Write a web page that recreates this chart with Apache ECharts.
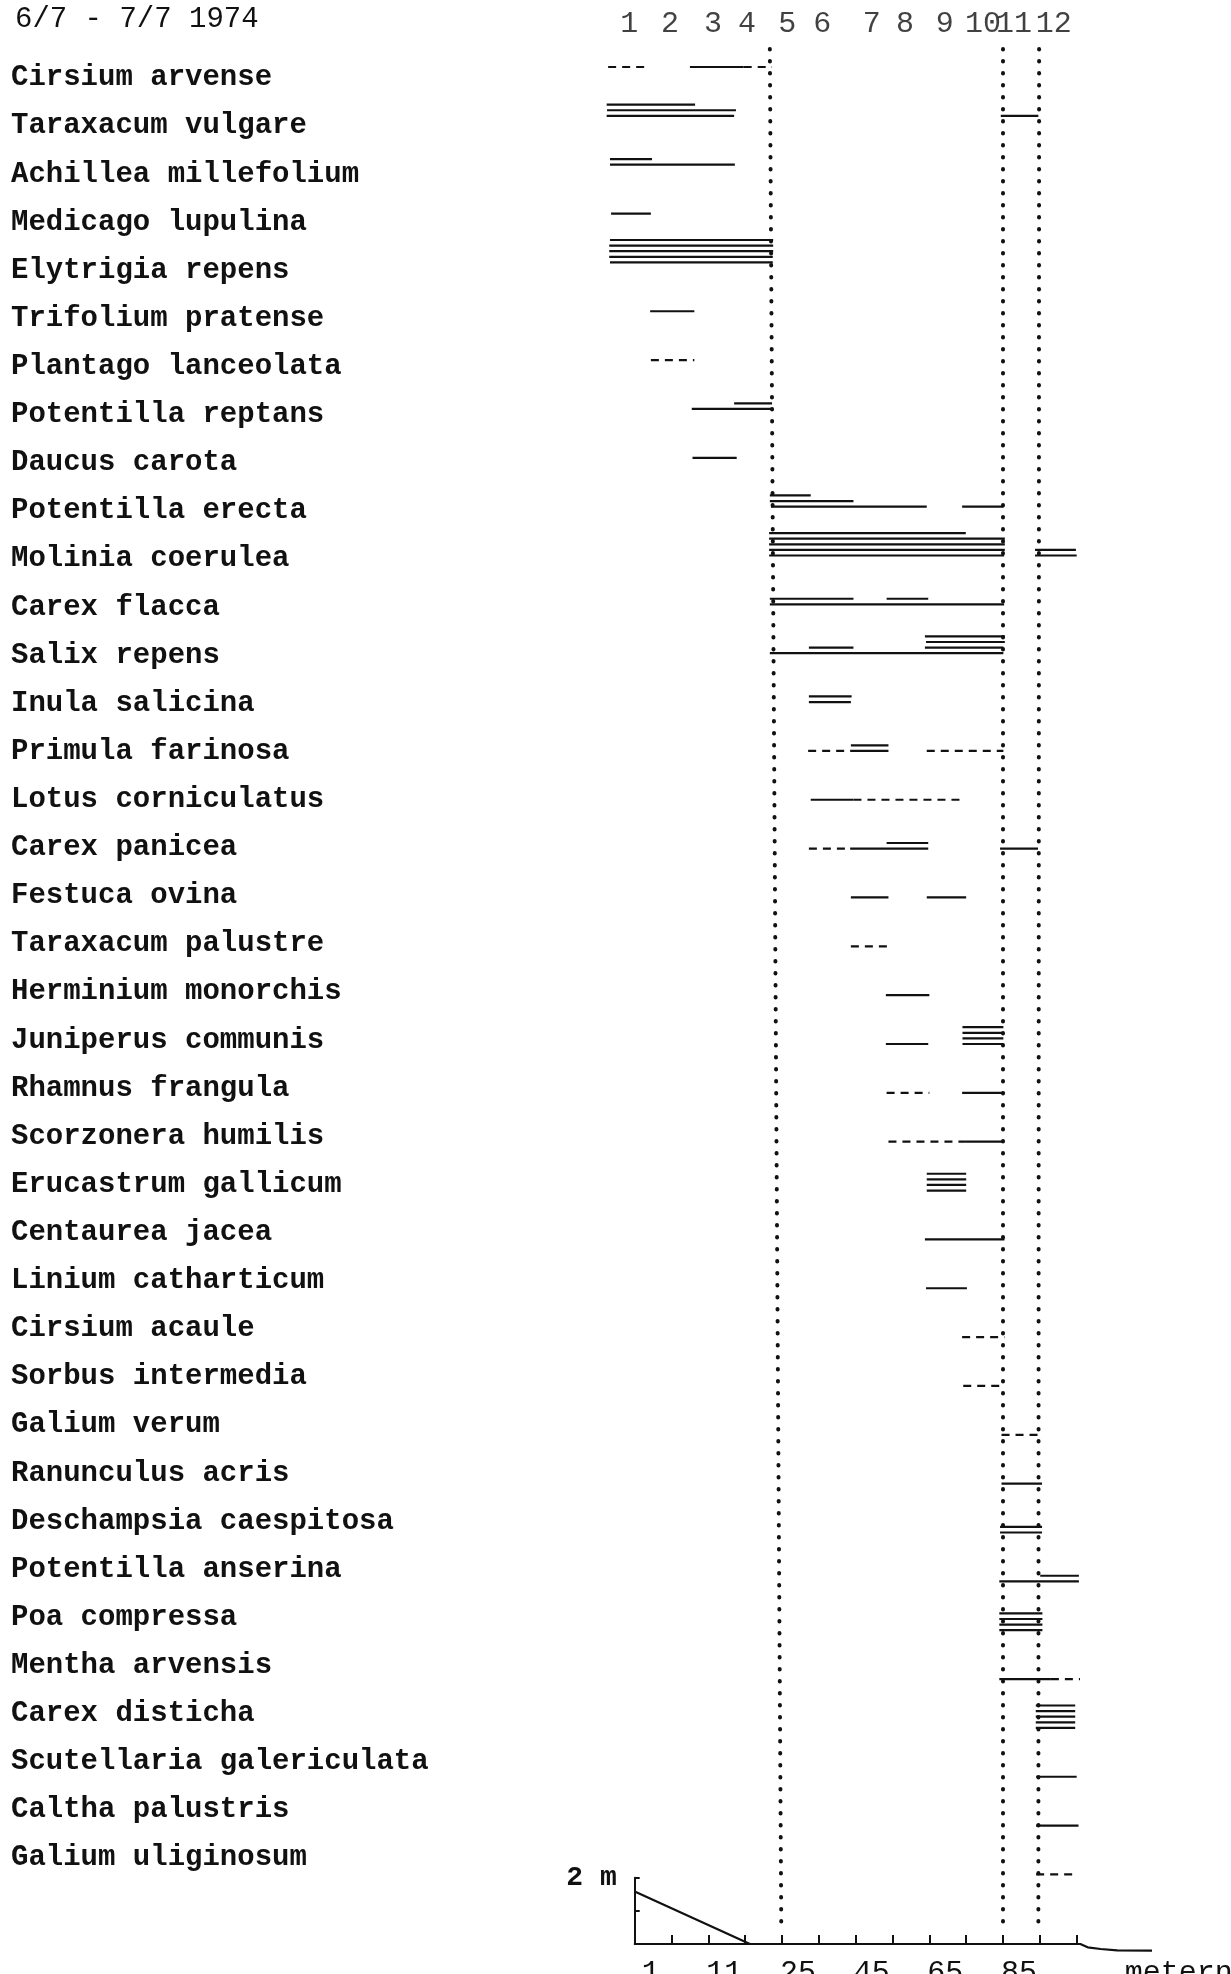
<!DOCTYPE html>
<html>
<head>
<meta charset="utf-8">
<script src="https://cdn.jsdelivr.net/npm/echarts@6/dist/echarts.min.js"></script>
<style>
  html, body { margin: 0; padding: 0; background: #fff; }
  #chart { width: 1231px; height: 1974px; }
</style>
</head>
<body>
<div id="chart"></div>
<script>
// species, top to bottom
const species = [
  'Cirsium arvense', 'Taraxacum vulgare', 'Achillea millefolium', 'Medicago lupulina',
  'Elytrigia repens', 'Trifolium pratense', 'Plantago lanceolata', 'Potentilla reptans',
  'Daucus carota', 'Potentilla erecta', 'Molinia coerulea', 'Carex flacca',
  'Salix repens', 'Inula salicina', 'Primula farinosa', 'Lotus corniculatus',
  'Carex panicea', 'Festuca ovina', 'Taraxacum palustre', 'Herminium monorchis',
  'Juniperus communis', 'Rhamnus frangula', 'Scorzonera humilis', 'Erucastrum gallicum',
  'Centaurea jacea', 'Linium catharticum', 'Cirsium acaule', 'Sorbus intermedia',
  'Galium verum', 'Ranunculus acris', 'Deschampsia caespitosa', 'Potentilla anserina',
  'Poa compressa', 'Mentha arvensis', 'Carex disticha', 'Scutellaria galericulata',
  'Caltha palustris', 'Galium uliginosum'
];

// quadrat numbers along the top and where they stand on the transect scale
const sections = ['1', '2', '3', '4', '5', '6', '7', '8', '9', '10', '11', '12'];
const sectionPos = [-1.5, 9.6, 21.3, 30.5, 41.4, 50.9, 64.4, 73.4, 84.2, 94.6, 103.0, 113.8];

// bottom scale: tick value -> printed distance
const scaleTicks = [0, 20, 40, 60, 80, 100];
const scaleLabels = ['1', '11', '25', '45', '65', '85'];

// ground profile: [position, height in m]
const profile = [[0, 1.58], [31.3, 0], [121, 0], [123, -0.1], [126.5, -0.15], [131, -0.19], [140.5, -0.2]];

// dotted boundaries: [position at top, position at bottom]
const boundaries = [[36.7, 39.8], [99.9, 99.8], [109.8, 109.6]];

// occurrence per species: [from, to, line number (0 = lowest), dashed]
const occurrences = [
  [[-7.2, 3.6, 0, 1], [15.0, 29.6, 0, 0], [29.6, 37.3, 0, 1]],
  [[-7.6, 16.4, 2, 0], [-7.5, 27.5, 1, 0], [-7.6, 27.0, 0, 0], [99.4, 109.6, 0, 0]],
  [[-6.7, 4.7, 1, 0], [-6.7, 27.2, 0, 0]],
  [[-6.4, 4.4, 0, 0]],
  [[-6.7, 37.5, 0, 0], [-6.9, 37.5, 1, 0], [-6.9, 37.6, 2, 0], [-6.9, 37.6, 3, 0], [-6.7, 37.6, 4, 0]],
  [[4.2, 16.2, 0, 0]],
  [[4.4, 16.2, 0, 1]],
  [[27.0, 37.3, 1, 0], [15.5, 37.6, 0, 0]],
  [[15.7, 27.7, 0, 0]],
  [[36.7, 47.8, 2, 0], [36.7, 59.4, 1, 0], [37.0, 79.3, 0, 0], [88.9, 100.1, 0, 0]],
  [[36.5, 89.9, 4, 0], [36.5, 100.5, 3, 0], [36.5, 100.5, 2, 0], [36.5, 100.5, 1, 0], [36.5, 100.3, 0, 0],
   [108.7, 119.8, 1, 0], [108.7, 120.0, 0, 0]],
  [[36.7, 59.4, 1, 0], [68.4, 79.7, 1, 0], [36.7, 100.3, 0, 0]],
  [[78.8, 100.5, 3, 0], [79.1, 100.5, 2, 0], [47.3, 59.4, 1, 0], [78.8, 100.1, 1, 0], [36.7, 100.1, 0, 0]],
  [[47.3, 58.9, 1, 0], [47.3, 58.7, 0, 0]],
  [[58.7, 68.9, 1, 0], [47.1, 58.5, 0, 1], [58.5, 68.9, 0, 0], [79.3, 100.1, 0, 1]],
  [[47.8, 59.4, 0, 0], [59.4, 89.7, 0, 1]],
  [[68.4, 79.7, 1, 0], [47.3, 58.5, 0, 1], [58.5, 79.7, 0, 0], [99.2, 109.5, 0, 0]],
  [[58.7, 68.9, 0, 0], [79.3, 90.0, 0, 0]],
  [[58.7, 68.9, 0, 1]],
  [[68.2, 80.0, 0, 0]],
  [[68.2, 79.7, 0, 0], [89.0, 100.1, 0, 0], [89.0, 100.1, 1, 0], [89.0, 100.1, 2, 0], [89.0, 100.1, 3, 0]],
  [[68.4, 80.0, 0, 1], [88.9, 100.4, 0, 0]],
  [[68.9, 89.7, 0, 1], [89.7, 100.1, 0, 0]],
  [[79.3, 90.0, 0, 0], [79.3, 90.0, 1, 0], [79.3, 90.0, 2, 0], [79.3, 90.0, 3, 0]],
  [[78.8, 100.4, 0, 0]],
  [[79.1, 90.2, 0, 0]],
  [[88.9, 100.4, 0, 1]],
  [[89.2, 100.4, 0, 1]],
  [[99.6, 110.6, 0, 1]],
  [[99.6, 110.6, 0, 0]],
  [[99.2, 110.6, 0, 0], [99.2, 110.6, 1, 0]],
  [[110.1, 120.6, 1, 0], [99.0, 120.6, 0, 0]],
  [[99.0, 110.7, 0, 0], [99.0, 110.7, 1, 0], [99.0, 110.7, 2, 0], [99.0, 110.7, 3, 0]],
  [[99.0, 113.0, 0, 0], [113.0, 120.9, 0, 1]],
  [[108.9, 119.6, 0, 0], [108.9, 119.6, 1, 0], [108.9, 119.6, 2, 0], [108.9, 119.6, 3, 0], [108.9, 119.6, 4, 0]],
  [[109.0, 120.0, 0, 0]],
  [[109.0, 120.5, 0, 0]],
  [[109.0, 120.0, 0, 1]]
];

const LINE_GAP = 5.6;
const INK = '#111';
const TYPE_FONT = '"Liberation Mono", "DejaVu Sans Mono", monospace';

const segments = [];
occurrences.forEach((list, row) => {
  list.forEach(s => segments.push([row, s[0], s[1], s[2], s[3]]));
});

const chart = echarts.init(document.getElementById('chart'), null, { renderer: 'canvas' });

chart.setOption({
  backgroundColor: '#fff',
  animation: false,
  title: {
    text: '6/7 - 7/7 1974',
    left: 10,
    top: 0,
    textStyle: { fontFamily: TYPE_FONT, fontSize: 29, fontWeight: 'normal', color: INK }
  },
  grid: [
    // transect marks
    { left: 561, width: 663, top: 18.15, height: 1929.6, outerBoundsMode: 'none' },
    // species names
    { left: 600, width: 400, top: 53.95, height: 1828.2, outerBoundsMode: 'none' },
    // scale under the profile
    { left: 634.7, width: 442, top: 1877.7, height: 66.3, outerBoundsMode: 'none' },
    // ground profile itself (same scale, room for the dip past the end)
    { left: 634.7, width: 515.6, top: 1877.7, height: 99.45, outerBoundsMode: 'none' }
  ],
  xAxis: [
    { gridIndex: 0, type: 'value', min: -20, max: 160, show: false },
    { gridIndex: 1, type: 'value', min: 0, max: 1, show: false },
    {
      gridIndex: 2, type: 'value', min: 0, max: 120, interval: 10,
      axisLine: { show: true, lineStyle: { color: INK, width: 2 } },
      axisTick: { show: true, inside: true, length: 9, lineStyle: { color: INK, width: 2 } },
      splitLine: { show: false },
      axisLabel: {
        fontFamily: TYPE_FONT, fontSize: 30, color: INK, margin: 14,
        padding: [0, 0, 0, 32],
        formatter: v => {
          const i = scaleTicks.indexOf(v);
          return i >= 0 ? scaleLabels[i] : '';
        }
      },
      name: 'metern',
      nameLocation: 'end',
      nameGap: 48,
      nameTextStyle: {
        fontFamily: TYPE_FONT, fontSize: 30, color: INK,
        verticalAlign: 'top', padding: [14, 0, 0, 0]
      }
    },
    { gridIndex: 3, type: 'value', min: 0, max: 140, show: false }
  ],
  yAxis: [
    { gridIndex: 0, type: 'value', min: -1, max: 38.5, inverse: true, show: false },
    {
      gridIndex: 1, type: 'category', inverse: true, data: species,
      axisLine: { show: false }, axisTick: { show: false },
      axisLabel: {
        align: 'left', margin: 589, interval: 0,
        fontFamily: TYPE_FONT, fontSize: 29, fontWeight: 'bold', color: INK
      }
    },
    {
      gridIndex: 2, type: 'value', min: 0, max: 2, interval: 1,
      axisLine: { show: true, lineStyle: { color: INK, width: 2 } },
      axisTick: { show: true, inside: true, length: 5, lineStyle: { color: INK, width: 2 } },
      splitLine: { show: false },
      axisLabel: {
        fontFamily: TYPE_FONT, fontSize: 28, fontWeight: 'bold', color: INK, margin: 18,
        padding: [10, 0, 0, 0],
        formatter: v => (v === 2 ? '2 m' : '')
      }
    },
    { gridIndex: 3, type: 'value', min: -1, max: 2, show: false }
  ],
  series: [
    {
      type: 'custom',
      xAxisIndex: 0,
      yAxisIndex: 0,
      encode: { x: [1, 2], y: 0 },
      data: segments,
      renderItem: (params, api) => {
        const row = api.value(0);
        const a = api.coord([api.value(1), row]);
        const b = api.coord([api.value(2), row]);
        const y = a[1] - api.value(3) * LINE_GAP;
        return {
          type: 'line',
          shape: { x1: a[0], y1: y, x2: b[0], y2: y },
          style: {
            stroke: INK,
            lineWidth: 2.2,
            lineDash: api.value(4) ? [8, 6] : null
          }
        };
      },
      markLine: {
        silent: true,
        symbol: ['none', 'none'],
        label: { show: false },
        lineStyle: { color: INK, width: 4, type: [0.5, 11.5], cap: 'round' },
        data: boundaries.map(b => [{ coord: [b[0], -0.37] }, { coord: [b[1], 38.05] }])
      }
    },
    {
      type: 'scatter',
      xAxisIndex: 0,
      yAxisIndex: 0,
      symbolSize: 1,
      itemStyle: { color: 'rgba(0,0,0,0)' },
      data: sectionPos.map((x, i) => ({ value: [x, -0.87], name: sections[i] })),
      label: {
        show: true,
        position: 'inside',
        formatter: p => p.name,
        fontFamily: TYPE_FONT, fontSize: 30, color: INK
      }
    },
    {
      type: 'line',
      xAxisIndex: 3,
      yAxisIndex: 3,
      symbol: 'none',
      lineStyle: { color: INK, width: 2.2 },
      data: profile
    }
  ]
});
</script>
</body>
</html>
